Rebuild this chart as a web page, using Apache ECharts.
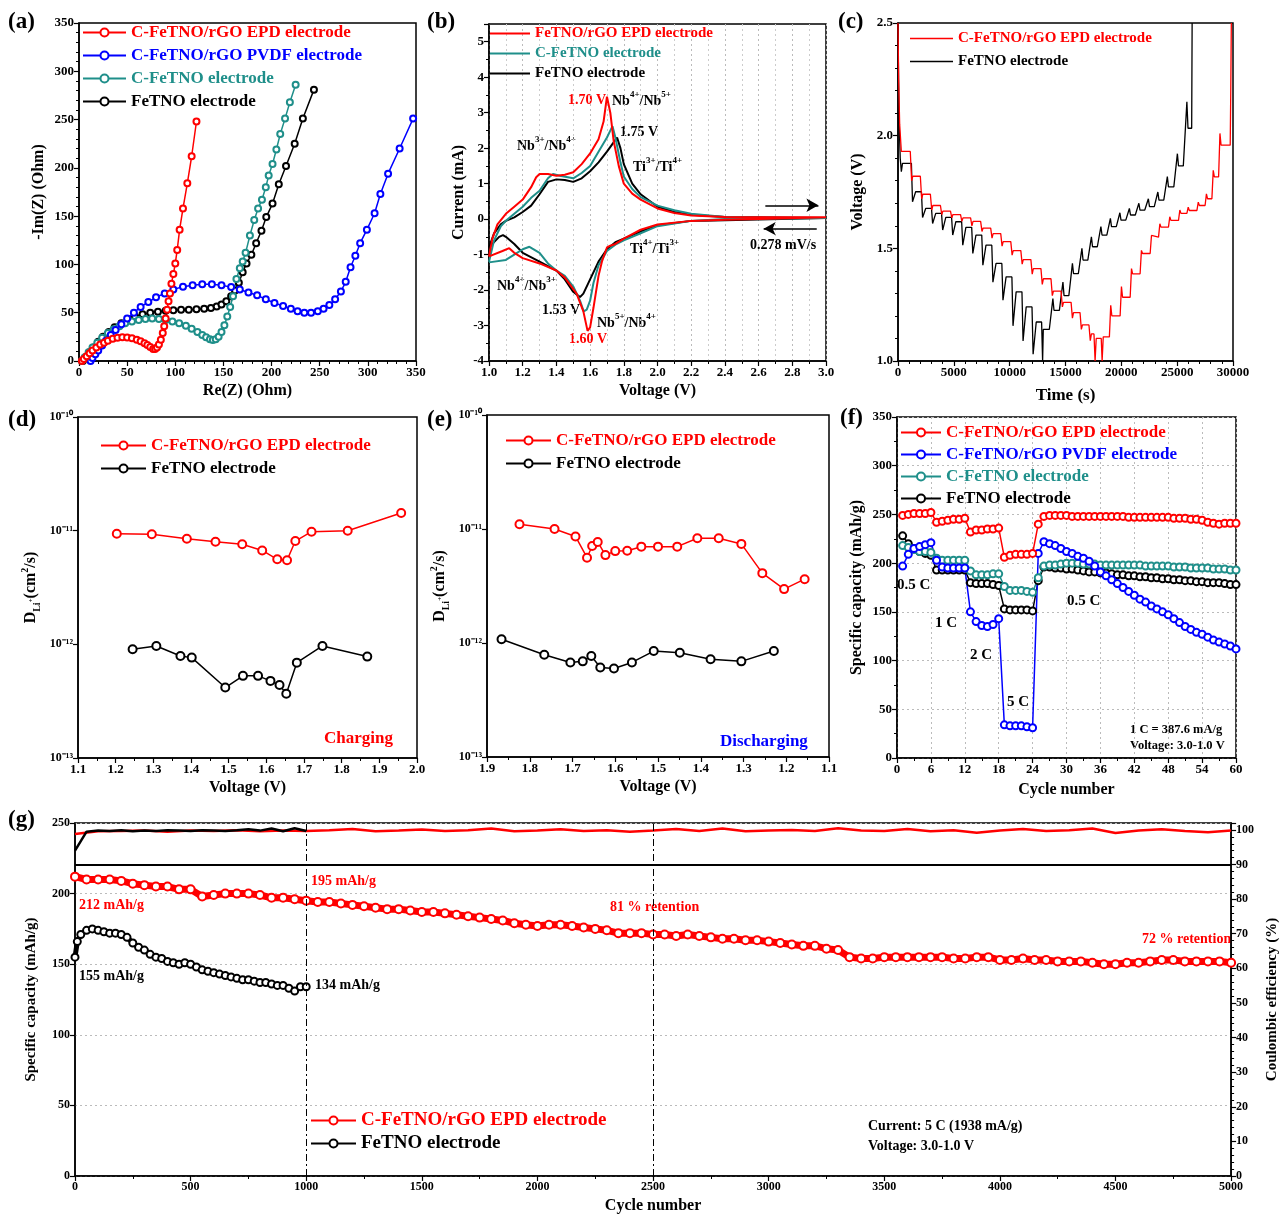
<!DOCTYPE html>
<html>
<head>
<meta charset="utf-8">
<script src="https://cdn.jsdelivr.net/npm/echarts@6/dist/echarts.min.js"></script>
<style>html,body{margin:0;padding:0;background:#fff}#main{width:1288px;height:1217px}</style>
</head>
<body>
<div id="main"></div>
<script>
var FONT = '"Liberation Serif","Times New Roman",serif';
var RED = '#ff0000', BLUE = '#0000ff', TEAL = '#1f8f8a', BLACK = '#000000';

// (a) Nyquist plots
var eisEpdRe = [3,5,8,11,14,18,22,26,30,35,40,45,50,55,60,64,68,71,74,77,79,81,83,85,87,88.5,90,91.5,93,94.5,96,98,100,102,104.5,108,112.5,117,122];
var eisEpdIm = [0,2,5,8,11,14,17,19,21,23,24,24.5,24.3,23.5,22,20.5,18.5,16.5,14.5,12.5,12.5,14,17,22,29,36,44,53,62,70,80,90,101,115,136,158,184,212,248];
var eisPvdfRe = [12,14,17,20,24,28,33,38,44,50,57,64,72,80,89,98,108,118,128,138,148,158,167,176,185,194,203,212,220,227,234,241,248,254,260,266,272,277,282,287,292,299,307,313,321,333,347];
var eisPvdfIm = [0,3,7,11,16,21,27,32,38,44,50,56,61,66,70,74,77,78.5,79.5,79.5,78.5,76.5,74,71,68,64,60,57,54,51.5,50,50,51.5,54,58,64,72,82,97,109,122,136,153,173,194,220,251];
var eisCRe = [3,6,10,14,19,24,30,36,42,48,55,62,69,76,83,90,97,104,111,117,123,128,132,136,139,142,145,148,151,154,157,160,163.5,167,170,173,177.5,182,186,190,194,197,201,205,209,214,219,225];
var eisCIm = [0,4,9,14,19,24,29,33,36,39,41,42.5,43.5,44,43.5,42.5,41,39,36.5,33.5,30,27,24.5,22.5,21.7,22.5,25,30,37,46,56,67,85,96,103,112,130,146,158,167,180,192,204,219,235,251,268,286];
var eisFeRe = [4,7,11,15,20,25,31,37,44,51,58,66,74,82,90,98,106,114,122,130,137,143,148,153,158,162,166,170,174,179,184,189.5,194.5,201,207.5,215,224,232.5,244];
var eisFeIm = [0,4,9,14,20,25,30,35,39,43,46,48.5,50,51,52,52.5,53,53,53.5,54,55,56.5,58.5,62,67,73,81,92,101,110,122,135,149,163,183,202,225,251,281];

// (b) CV loops
var cvEpdV = [1.0,1.02,1.05,1.1,1.15,1.2,1.25,1.28,1.3,1.35,1.4,1.45,1.5,1.55,1.6,1.65,1.68,1.70,1.72,1.74,1.77,1.8,1.85,1.9,2.0,2.1,2.2,2.4,2.6,3.0,
  3.0,2.6,2.4,2.2,2.0,1.9,1.8,1.75,1.72,1.7,1.67,1.65,1.62,1.6,1.585,1.56,1.52,1.45,1.4,1.3,1.2,1.15,1.12,1.08,1.0];
var cvEpdI = [-1.05,-0.55,-0.15,0.15,0.35,0.55,0.9,1.18,1.27,1.27,1.22,1.25,1.32,1.55,1.85,2.25,2.75,3.45,3.0,2.2,1.5,1.0,0.72,0.55,0.3,0.17,0.1,0.06,0.05,0.05,
  0.03,0.0,-0.02,-0.05,-0.15,-0.3,-0.55,-0.7,-0.75,-0.8,-1.2,-1.6,-2.5,-3.05,-3.15,-2.6,-2.1,-1.65,-1.45,-1.25,-1.1,-0.95,-0.82,-0.9,-1.05];
var cvCV = [1.0,1.03,1.07,1.1,1.15,1.2,1.25,1.3,1.35,1.38,1.42,1.5,1.55,1.6,1.65,1.7,1.733,1.75,1.78,1.8,1.85,1.9,2.0,2.1,2.2,2.4,2.6,3.0,
  3.0,2.4,2.2,2.0,1.9,1.8,1.75,1.7,1.65,1.62,1.6,1.58,1.562,1.54,1.5,1.45,1.4,1.35,1.3,1.24,1.2,1.15,1.1,1.0];
var cvCI = [-1.2,-0.6,-0.2,-0.05,0.15,0.35,0.6,0.8,1.15,1.27,1.22,1.15,1.3,1.5,1.9,2.3,2.62,2.3,1.6,1.2,0.85,0.62,0.38,0.25,0.15,0.06,0.04,0.03,
  0.03,0.0,-0.05,-0.2,-0.4,-0.6,-0.72,-0.9,-1.3,-1.8,-2.3,-2.55,-2.6,-2.3,-1.9,-1.6,-1.45,-1.25,-0.95,-0.78,-0.85,-1.0,-1.15,-1.22];
var cvFeV = [1.0,1.03,1.07,1.1,1.15,1.2,1.25,1.3,1.35,1.4,1.45,1.5,1.55,1.6,1.65,1.7,1.73,1.76,1.78,1.8,1.85,1.9,2.0,2.1,2.2,2.4,3.0,
  3.0,2.2,2.0,1.9,1.8,1.75,1.7,1.65,1.6,1.56,1.54,1.5,1.45,1.4,1.3,1.2,1.15,1.1,1.083,1.06,1.03,1.0];
var cvFeI = [-0.8,-0.4,-0.15,-0.05,0.05,0.2,0.38,0.7,1.05,1.12,1.1,1.05,1.15,1.35,1.6,1.9,2.1,2.3,2.0,1.55,1.0,0.7,0.35,0.2,0.12,0.06,0.03,
  0.03,-0.05,-0.17,-0.35,-0.55,-0.65,-0.85,-1.2,-1.7,-2.1,-2.2,-2.05,-1.7,-1.45,-1.2,-0.95,-0.7,-0.5,-0.45,-0.5,-0.65,-0.8];

// (c) GITT: step start times, pulse extreme voltage, relaxed voltage
var gEpdHeadT = [0,60,150,300], gEpdHeadV = [2.5,2.25,2.05,1.93];
var gEpdDisT = [1100,2000,2900,3800,4700,5600,6500,7400,8300,9200,10100,11000,11900,12800,13700,14600,15500,16300,17100];
var gEpdDisMin = [1.80,1.72,1.67,1.65,1.635,1.62,1.60,1.575,1.545,1.51,1.47,1.43,1.385,1.34,1.29,1.24,1.19,1.14,1.09];
var gEpdDisRel = [1.82,1.74,1.69,1.665,1.65,1.635,1.62,1.59,1.565,1.53,1.49,1.45,1.41,1.365,1.31,1.26,1.215,1.16,1.12];
var gEpdMidT = [17550,17650,17750,18200,18280,18380], gEpdMidV = [1.12,1.0,1.1,1.1,1.0,1.107];
var gEpdChgT = [18930,19890,20790,21680,22580,23330,24220,25120,25870,26770,27500,28110,28710];
var gEpdChgPk = [1.247,1.33,1.41,1.491,1.557,1.609,1.64,1.67,1.683,1.705,1.742,1.846,2.01];
var gEpdChgRel = [1.2,1.283,1.387,1.477,1.55,1.594,1.624,1.655,1.668,1.69,1.72,1.817,1.958];
var gEpdEndT = [29750,29800,29850], gEpdEndV = [1.958,2.2,2.5];
var gFeHeadT = [0,80,200,300,400], gFeHeadV = [2.5,2.1,1.9,1.84,1.877];
var gFeDisT = [1200,2100,3000,3900,4800,5700,6600,7500,8400,9300,10200,11100,12000];
var gFeDisMin = [1.707,1.637,1.61,1.581,1.559,1.514,1.477,1.425,1.35,1.27,1.156,1.089,1.03];
var gFeDisRel = [1.751,1.677,1.655,1.637,1.618,1.593,1.559,1.514,1.433,1.373,1.307,1.24,1.173];
var gFeMidT = [12860,12950,13010], gFeMidV = [1.173,1.0,1.14];
var gFeChgT = [13550,14450,15300,16150,17000,17850,18700,19550,20400,21250,22100,22950,23800,24700,25550];
var gFeChgPk = [1.277,1.35,1.433,1.5,1.551,1.596,1.633,1.658,1.677,1.7,1.72,1.75,1.818,1.92,2.15];
var gFeChgRel = [1.225,1.29,1.388,1.448,1.507,1.559,1.596,1.625,1.648,1.67,1.685,1.714,1.773,1.866,2.033];
var gFeEndT = [26300,26340], gFeEndV = [2.033,2.5];

// (d) diffusion coefficient, charging
var dChgEpdV = [1.203,1.296,1.389,1.465,1.536,1.589,1.629,1.655,1.677,1.72,1.816,1.958];
var dChgEpdD = [9.4e-12,9.3e-12,8.5e-12,8.0e-12,7.6e-12,6.7e-12,5.6e-12,5.5e-12,8.1e-12,9.8e-12,1.0e-11,1.43e-11];
var dChgFeV = [1.245,1.308,1.372,1.402,1.491,1.538,1.578,1.611,1.635,1.653,1.681,1.749,1.868];
var dChgFeD = [9.06e-13,9.68e-13,7.9e-13,7.64e-13,4.17e-13,5.28e-13,5.28e-13,4.77e-13,4.38e-13,3.67e-13,6.9e-13,9.68e-13,7.8e-13];
// (e) diffusion coefficient, discharging
var dDisEpdV = [1.824,1.742,1.693,1.666,1.654,1.641,1.623,1.6,1.572,1.539,1.5,1.455,1.408,1.358,1.305,1.256,1.205,1.157];
var dDisEpdD = [1.10e-11,1.0e-11,8.6e-12,5.6e-12,7.1e-12,7.7e-12,5.9e-12,6.4e-12,6.45e-12,7.0e-12,7.0e-12,7.0e-12,8.3e-12,8.3e-12,7.4e-12,4.1e-12,2.97e-12,3.63e-12];
var dDisFeV = [1.866,1.766,1.705,1.676,1.656,1.635,1.603,1.561,1.51,1.449,1.377,1.305,1.229];
var dDisFeD = [1.08e-12,7.9e-13,6.75e-13,6.9e-13,7.7e-13,6.1e-13,5.98e-13,6.75e-13,8.5e-13,8.2e-13,7.2e-13,6.9e-13,8.5e-13];

// (f) rate capability, cycles 1..60
var rateCycles = Array.from({length: 60}, function (_, i) { return i + 1; });
var rateEpd = [249,250,251,251,251,252,242,243,244,245,245,246,232,234,234,235,235,236,206,208,209,209,209,210,240,
  248,249,249,249,249,248,248,248,248,248,248,248,248,248,248,247,247,247,247,247,247,247,247,246,246,246,245,245,244,242,241,240,241,241,241];
var ratePvdf = [197,209,215,217,219,221,203,196,195,195,195,195,150,140,136,135,137,143,34,33,33,33,32,31,210,
  222,220,218,215,212,210,207,205,202,197,191,187,183,179,175,171,167,163,160,156,153,150,147,143,139,135,132,129,127,124,121,119,117,115,112];
var rateC = [218,216,214,212,212,211,205,203,203,203,203,203,192,188,188,188,189,189,176,172,172,172,171,170,185,
  197,198,198,199,200,200,200,199,199,199,198,198,198,198,198,198,198,198,197,197,197,197,197,196,196,196,195,195,195,195,194,194,194,193,193];
var rateFe = [228,220,215,212,210,208,193,193,193,193,193,193,180,179,179,179,178,177,153,152,152,152,152,151,182,
  196,196,195,195,194,194,193,192,191,191,190,190,189,188,188,187,187,186,186,185,185,184,184,183,183,182,182,181,181,180,180,180,179,178,178];

// (g) long cycling at 5 C
var cycEpdCap = [212,210,210,210,209,207,206,205,205,203,203,198,199,200,200,200,199,197,197,196,
  195,194,194,193,192,191,190,189,189,188,187,187,186,185,184,183,182,181,179,178,
  177,178,178,177,176,175,174,172,172,172,171,171,170,171,170,169,168,168,167,167,
  166,165,164,163,163,161,160,155,154,154,155,155,155,155,155,155,154,154,155,155,
  153,153,154,153,153,152,152,152,151,150,150,151,151,152,153,153,152,152,152,152,151];
var cycEpdX = cycEpdCap.map(function (_, i) { return i * 50; });
var cycFeX = [0,10].concat(Array.from({length: 40}, function (_, i) { return (i + 1) * 25; }));
var cycFeCap = [155,166,171,174,175,174,173,172,172,171,169,165,162,160,157,155,154,152,151,150,151,150,148,146,145,144,143,142,141,140,139,139,138,137,137,136,135,135,133,131,134,134];
var ceEpd = [98.8,99.6,99.7,99.8,99.5,99.8,99.7,99.9,99.6,99.8,99.7,99.9,100.3,99.6,99.8,100.1,99.7,99.9,100.4,99.6,
  99.8,100.2,99.7,99.9,99.5,99.8,100.3,99.7,100.4,99.6,99.8,100.0,99.7,100.5,99.8,99.7,100.3,99.6,99.9,99.2,
  99.8,100.3,99.7,99.9,100.4,99.1,99.8,100.2,99.7,99.3,99.8];
var ceEpdX = ceEpd.map(function (_, i) { return i * 100; });
var ceFe = [94.0,99.5,99.8,99.7,99.9,99.6,99.8,99.7,99.9,99.8,99.7,99.9,99.8,99.7,99.9,100.2,99.8,100.4,99.6,100.5,99.7];
var ceFeX = ceFe.map(function (_, i) { return i * 50; });

function zip(a, b) { return a.map(function (v, i) { return [v, b[i]]; }); }
function clean(o) { Object.keys(o).forEach(function (k) { if (o[k] === undefined) delete o[k]; }); return o; }

function gittSteps(pts, T, ext, rel, d1, d2) {
  var prev = pts[pts.length - 1][1];
  for (var k = 0; k < T.length; k++) {
    pts.push([T[k], prev]);
    pts.push([T[k] + d1, ext[k]]);
    pts.push([T[k] + d2, rel[k]]);
    prev = rel[k];
  }
  return pts;
}
var gittEpd = zip(gEpdHeadT, gEpdHeadV);
gittSteps(gittEpd, gEpdDisT, gEpdDisMin, gEpdDisRel, 120, 220);
gittEpd = gittEpd.concat(zip(gEpdMidT, gEpdMidV));
gittSteps(gittEpd, gEpdChgT, gEpdChgPk, gEpdChgRel, 120, 220);
gittEpd = gittEpd.concat(zip(gEpdEndT, gEpdEndV));
var gittFe = zip(gFeHeadT, gFeHeadV);
gittSteps(gittFe, gFeDisT, gFeDisMin, gFeDisRel, 100, 380);
gittFe = gittFe.concat(zip(gFeMidT, gFeMidV));
gittSteps(gittFe, gFeChgT, gFeChgPk, gFeChgRel, 320, 420);
gittFe = gittFe.concat(zip(gFeEndT, gFeEndV));

var SUP = {'-': '\u207b', '0': '\u2070', '1': '\u00b9', '2': '\u00b2', '3': '\u00b3'};
function expLabel(v) {
  var e = String(Math.round(Math.log10(v)));
  return '10' + e.split('').map(function (c) { return SUP[c]; }).join('');
}

function axis(o) {
  return clean({
    type: o.type || 'value', gridIndex: o.grid, min: o.min, max: o.max, interval: o.interval,
    inverse: o.inverse, position: o.position, logBase: o.logBase,
    name: o.name, nameLocation: 'middle', nameGap: o.nameGap,
    nameTextStyle: {color: '#000', fontFamily: FONT, fontWeight: 'bold', fontSize: o.nameSize || 16, rich: o.nameRich},
    axisLine: {show: true, onZero: false, lineStyle: {color: '#000', width: 1.5}},
    axisTick: {show: true, length: 5, lineStyle: {color: '#000', width: 1.2}},
    minorTick: {show: !!o.minor, splitNumber: o.minor || 5, length: 3, lineStyle: {color: '#000', width: 1}},
    axisLabel: {color: '#000', fontFamily: FONT, fontWeight: 'bold', fontSize: o.labelSize || 13, margin: 5,
      formatter: o.fmt || function (v) { return String(v); }},
    splitLine: {show: !!o.split, lineStyle: {color: '#bbb', type: [2, 3], width: 1}},
    minorSplitLine: {show: !!o.minorSplit, lineStyle: {color: '#ccc', type: [2, 3], width: 1}}
  });
}
function fix1(v) { return v.toFixed(1); }

function line(name, gi, data, color, o) {
  o = o || {};
  return clean({
    name: name, type: 'line', xAxisIndex: gi, yAxisIndex: o.yi !== undefined ? o.yi : gi, data: data,
    symbol: o.symbol || 'none', symbolSize: o.size || 6, showSymbol: o.showSymbol !== false,
    lineStyle: {color: color, width: o.width || 1.5},
    itemStyle: {color: color, borderColor: color, borderWidth: o.bw || 1.5},
    markLine: o.markLine, z: o.z, silent: true, animation: false
  });
}

function legend(o) {
  return clean({
    orient: 'vertical', left: o.left, top: o.top, itemGap: o.gap, itemWidth: o.iw, itemHeight: o.ih || 10,
    icon: o.icon, itemStyle: o.icon ? {borderWidth: 0} : undefined, selectedMode: false, padding: 0,
    textStyle: {fontFamily: FONT, fontWeight: 'bold', fontSize: o.size},
    formatter: function (n) { return n.split('|')[1]; },
    data: o.items.map(function (it) { return clean({name: it[0], textStyle: {color: it[1]}, lineStyle: it[2]}); })
  });
}

function txt(x, y, text, color, size) {
  return {type: 'text', x: x, y: y, silent: true,
    style: {text: text, fill: color, fontFamily: FONT, fontWeight: 'bold', fontSize: size, align: 'left', verticalAlign: 'middle'}};
}
function ion(x, y, a, sa, b, sb) {
  return {type: 'text', x: x, y: y, silent: true,
    style: {text: '{n|' + a + '}{s|' + sa + '}{n|/' + b + '}{s|' + sb + '}', align: 'left', verticalAlign: 'middle',
      rich: {n: {fill: '#000', fontFamily: FONT, fontWeight: 'bold', fontSize: 14, lineHeight: 18, verticalAlign: 'bottom'},
             s: {fill: '#000', fontFamily: FONT, fontWeight: 'bold', fontSize: 9, verticalAlign: 'top'}}}};
}

var dName = '{m|D}{sub|Li}{subs|+}{m|(cm}{sup|2}{m|/s)}';
var dRich = {
  m: {fontFamily: FONT, fontWeight: 'bold', fontSize: 16, lineHeight: 22, verticalAlign: 'middle', color: '#000'},
  sub: {fontFamily: FONT, fontWeight: 'bold', fontSize: 10, verticalAlign: 'bottom', color: '#000'},
  subs: {fontFamily: FONT, fontWeight: 'bold', fontSize: 7, verticalAlign: 'middle', color: '#000'},
  sup: {fontFamily: FONT, fontWeight: 'bold', fontSize: 10, verticalAlign: 'top', color: '#000'}
};

var grids = [
  {left: 79, top: 23, width: 337, height: 338},
  {left: 489, top: 24, width: 337, height: 337},
  {left: 898, top: 23, width: 335, height: 338},
  {left: 78, top: 417, width: 339, height: 341},
  {left: 487, top: 415, width: 342, height: 342},
  {left: 897, top: 417, width: 339, height: 341},
  {left: 75, top: 823, width: 1169, height: 353}
].map(function (g) { return Object.assign(g, {show: true, borderColor: '#000', borderWidth: 1.5, containLabel: false}); });

var xAxes = [
  axis({grid: 0, min: 0, max: 350, interval: 50, minor: 5, name: 'Re(Z) (Ohm)', nameGap: 22}),
  axis({grid: 1, min: 1.0, max: 3.0, interval: 0.2, minor: 2, split: true, minorSplit: true, name: 'Voltage (V)', nameGap: 22, fmt: fix1}),
  axis({grid: 2, min: 0, max: 30000, interval: 5000, minor: 5, name: 'Time (s)', nameGap: 26, nameSize: 17}),
  axis({grid: 3, min: 1.1, max: 2.0, interval: 0.1, minor: 2, name: 'Voltage (V)', nameGap: 22, fmt: fix1}),
  axis({grid: 4, min: 1.1, max: 1.9, interval: 0.1, minor: 2, inverse: true, name: 'Voltage (V)', nameGap: 22, fmt: fix1}),
  axis({grid: 5, min: 0, max: 60, interval: 6, minor: 2, split: true, name: 'Cycle number', nameGap: 24}),
  axis({grid: 6, min: 0, max: 5000, interval: 500, minor: 2, name: 'Cycle number', nameGap: 22, labelSize: 12})
];
var yAxes = [
  axis({grid: 0, min: 0, max: 350, interval: 50, minor: 5, name: '-Im(Z) (Ohm)', nameGap: 32}),
  axis({grid: 1, min: -4, max: 5.5, interval: 1, minor: 2, name: 'Current (mA)', nameGap: 22,
    fmt: function (v) { return Number.isInteger(v) ? String(v) : ''; }}),
  axis({grid: 2, min: 1.0, max: 2.5, interval: 0.5, minor: 5, name: 'Voltage (V)', nameGap: 32, fmt: fix1}),
  axis({grid: 3, type: 'log', logBase: 10, min: 1e-13, max: 1e-10, name: dName, nameRich: dRich, nameGap: 36, fmt: expLabel, labelSize: 12}),
  axis({grid: 4, type: 'log', logBase: 10, min: 1e-13, max: 1e-10, name: dName, nameRich: dRich, nameGap: 36, fmt: expLabel, labelSize: 12}),
  axis({grid: 5, min: 0, max: 350, interval: 50, minor: 2, split: true, name: 'Specific capacity (mAh/g)', nameGap: 32}),
  axis({grid: 6, min: 0, max: 250, interval: 50, split: true, name: 'Specific capacity (mAh/g)', nameGap: 36, labelSize: 12, nameSize: 15}),
  axis({grid: 6, min: 0, max: 102, interval: 10, minor: 5, position: 'right', name: 'Coulombic efficiency (%)', nameGap: 28, labelSize: 12, nameSize: 15,
    fmt: function (v) { return v <= 100 ? String(v) : ''; }})
];

var series = [
  // (a)
  line('a|FeTNO electrode', 0, zip(eisFeRe, eisFeIm), BLACK, {symbol: 'emptyCircle', size: 6}),
  line('a|C-FeTNO electrode', 0, zip(eisCRe, eisCIm), TEAL, {symbol: 'emptyCircle', size: 6}),
  line('a|C-FeTNO/rGO PVDF electrode', 0, zip(eisPvdfRe, eisPvdfIm), BLUE, {symbol: 'emptyCircle', size: 6}),
  line('a|C-FeTNO/rGO EPD electrode', 0, zip(eisEpdRe, eisEpdIm), RED, {symbol: 'emptyCircle', size: 6}),
  // (b)
  line('b|FeTNO electrode', 1, zip(cvFeV, cvFeI), BLACK, {width: 2}),
  line('b|C-FeTNO electrode', 1, zip(cvCV, cvCI), TEAL, {width: 2}),
  line('b|FeTNO/rGO EPD electrode', 1, zip(cvEpdV, cvEpdI), RED, {width: 2, markLine: {
    silent: true, symbol: ['none', 'arrow'], symbolSize: [10, 12], label: {show: false},
    lineStyle: {color: '#000', width: 1.5, type: 'solid'},
    data: [[{coord: [2.64, 0.39]}, {coord: [2.955, 0.39]}], [{coord: [2.945, -0.27]}, {coord: [2.63, -0.27]}]]}}),
  // (c)
  line('c|FeTNO electrode', 2, gittFe, BLACK, {width: 1.3}),
  line('c|C-FeTNO/rGO EPD electrode', 2, gittEpd, RED, {width: 1.3}),
  // (d)
  line('d|C-FeTNO/rGO EPD electrode', 3, zip(dChgEpdV, dChgEpdD), RED, {symbol: 'emptyCircle', size: 8, bw: 2}),
  line('d|FeTNO electrode', 3, zip(dChgFeV, dChgFeD), BLACK, {symbol: 'emptyCircle', size: 8, bw: 2}),
  // (e)
  line('e|C-FeTNO/rGO EPD electrode', 4, zip(dDisEpdV, dDisEpdD), RED, {symbol: 'emptyCircle', size: 8, bw: 2}),
  line('e|FeTNO electrode', 4, zip(dDisFeV, dDisFeD), BLACK, {symbol: 'emptyCircle', size: 8, bw: 2}),
  // (f)
  line('f|FeTNO electrode', 5, zip(rateCycles, rateFe), BLACK, {symbol: 'emptyCircle', size: 7}),
  line('f|C-FeTNO electrode', 5, zip(rateCycles, rateC), TEAL, {symbol: 'emptyCircle', size: 7}),
  line('f|C-FeTNO/rGO PVDF electrode', 5, zip(rateCycles, ratePvdf), BLUE, {symbol: 'emptyCircle', size: 7}),
  line('f|C-FeTNO/rGO EPD electrode', 5, zip(rateCycles, rateEpd), RED, {symbol: 'emptyCircle', size: 7}),
  // (g)
  line('g|C-FeTNO/rGO EPD electrode', 6, zip(cycEpdX, cycEpdCap), RED, {symbol: 'emptyCircle', size: 8, width: 7, yi: 6}),
  line('g|FeTNO electrode', 6, zip(cycFeX, cycFeCap), BLACK, {symbol: 'emptyCircle', size: 7, width: 5, yi: 6}),
  line('gce|red', 6, zip(ceEpdX, ceEpd), RED, {width: 2.5, yi: 7, markLine: {
    silent: true, symbol: 'none', label: {show: false},
    data: [
      {xAxis: 1000, lineStyle: {color: '#000', width: 1, type: [7, 3, 2, 3]}},
      {xAxis: 2500, lineStyle: {color: '#000', width: 1, type: [7, 3, 2, 3]}},
      {yAxis: 90, lineStyle: {color: '#000', width: 2, type: 'solid'}}
    ]}}),
  line('gce|black', 6, zip(ceFeX, ceFe), BLACK, {width: 2.5, yi: 7})
];

var legends = [
  legend({left: 82, top: 24, gap: 6, iw: 43, size: 17, items: [
    ['a|C-FeTNO/rGO EPD electrode', RED], ['a|C-FeTNO/rGO PVDF electrode', BLUE], ['a|C-FeTNO electrode', TEAL], ['a|FeTNO electrode', BLACK]]}),
  legend({left: 490, top: 26, gap: 5, iw: 40, ih: 2, icon: 'rect', size: 15, items: [
    ['b|FeTNO/rGO EPD electrode', RED], ['b|C-FeTNO electrode', TEAL], ['b|FeTNO electrode', BLACK]]}),
  legend({left: 910, top: 31, gap: 8, iw: 43, ih: 1.5, icon: 'rect', size: 15, items: [
    ['c|C-FeTNO/rGO EPD electrode', RED], ['c|FeTNO electrode', BLACK]]}),
  legend({left: 100, top: 437, gap: 6, iw: 45, size: 17, items: [
    ['d|C-FeTNO/rGO EPD electrode', RED], ['d|FeTNO electrode', BLACK]]}),
  legend({left: 505, top: 432, gap: 6, iw: 45, size: 17, items: [
    ['e|C-FeTNO/rGO EPD electrode', RED], ['e|FeTNO electrode', BLACK]]}),
  legend({left: 900, top: 424, gap: 5, iw: 40, size: 17, items: [
    ['f|C-FeTNO/rGO EPD electrode', RED], ['f|C-FeTNO/rGO PVDF electrode', BLUE], ['f|C-FeTNO electrode', TEAL], ['f|FeTNO electrode', BLACK]]}),
  legend({left: 310, top: 1111, gap: 4, iw: 45, size: 19, items: [
    ['g|C-FeTNO/rGO EPD electrode', RED, {width: 2}], ['g|FeTNO electrode', BLACK, {width: 2}]]})
];

var graphics = [
  txt(8, 22, '(a)', '#000', 23), txt(427, 22, '(b)', '#000', 23), txt(838, 22, '(c)', '#000', 23),
  txt(8, 420, '(d)', '#000', 23), txt(427, 420, '(e)', '#000', 23), txt(840, 418, '(f)', '#000', 23),
  txt(8, 820, '(g)', '#000', 23),
  // (b) annotations
  txt(568, 100, '1.70 V', RED, 14), ion(612, 99, 'Nb', '4+', 'Nb', '5+'),
  txt(620, 132, '1.75 V', '#000', 14), ion(517, 144, 'Nb', '3+', 'Nb', '4+'),
  ion(633, 165, 'Ti', '3+', 'Ti', '4+'), txt(750, 245, '0.278 mV/s', '#000', 14),
  ion(630, 247, 'Ti', '4+', 'Ti', '3+'), ion(497, 284, 'Nb', '4+', 'Nb', '3+'),
  txt(542, 310, '1.53 V', '#000', 14), ion(597, 321, 'Nb', '5+', 'Nb', '4+'),
  txt(569, 339, '1.60 V', RED, 14),
  // (d), (e)
  txt(324, 739, 'Charging', RED, 17), txt(720, 742, 'Discharging', BLUE, 17),
  // (f)
  txt(897, 585, '0.5 C', '#000', 15), txt(935, 623, '1 C', '#000', 15), txt(970, 655, '2 C', '#000', 15),
  txt(1007, 702, '5 C', '#000', 15), txt(1067, 601, '0.5 C', '#000', 15),
  txt(1130, 730, '1 C = 387.6 mA/g', '#000', 12.5), txt(1130, 746, 'Voltage: 3.0-1.0 V', '#000', 12.5),
  // (g)
  txt(311, 881, '195 mAh/g', RED, 14), txt(79, 905, '212 mAh/g', RED, 14),
  txt(79, 976, '155 mAh/g', '#000', 14), txt(315, 985, '134 mAh/g', '#000', 14),
  txt(610, 907, '81 % retention', RED, 14), txt(1142, 939, '72 % retention', RED, 14),
  txt(868, 1126, 'Current: 5 C (1938 mA/g)', '#000', 14), txt(868, 1146, 'Voltage: 3.0-1.0 V', '#000', 14)
];

var chart = echarts.init(document.getElementById('main'), null, {renderer: 'canvas'});
chart.setOption({
  backgroundColor: '#ffffff',
  animation: false,
  textStyle: {fontFamily: FONT},
  grid: grids,
  xAxis: xAxes,
  yAxis: yAxes,
  legend: legends,
  series: series,
  graphic: graphics
});
</script>
</body>
</html>
